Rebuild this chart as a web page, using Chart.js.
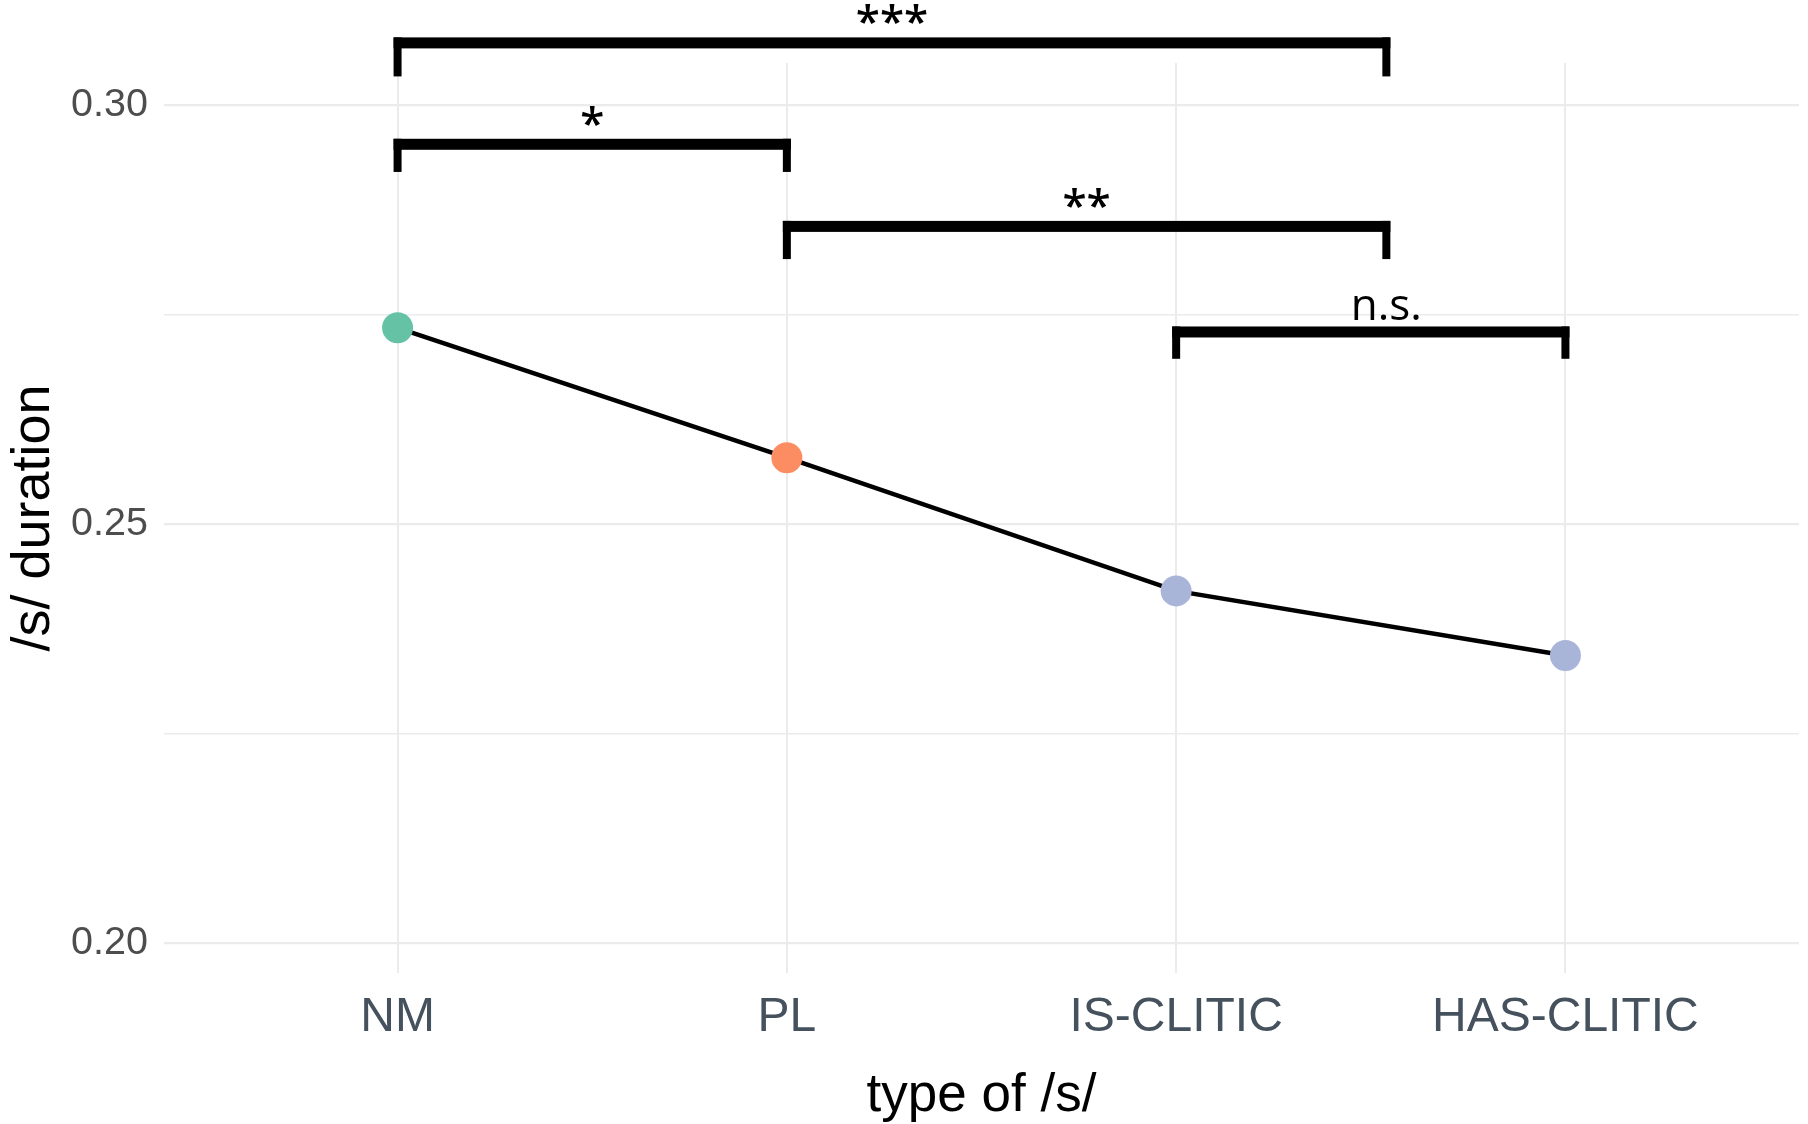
<!DOCTYPE html>
<html>
<head>
<meta charset="utf-8">
<script src="https://cdn.jsdelivr.net/npm/chart.js@4/dist/chart.umd.min.js"></script>
<style>
  html, body { margin: 0; padding: 0; background: #fff; overflow: hidden; }
  #wrap { width: 1808px; height: 1124px; position: relative; }
</style>
</head>
<body>
<div id="wrap"><canvas id="chart"></canvas></div>
<script>
// data
const categories = ['NM', 'PL', 'IS-CLITIC', 'HAS-CLITIC'];
const durations = [0.2734, 0.2579, 0.2420, 0.2343];
const yTicks = [0.20, 0.25, 0.30];

// significance brackets (x in category index, y in data units)
const bracketFrom = [0, 0, 1, 2];
const bracketTo = [2.54, 1, 2.54, 3];
const bracketY = [0.3074, 0.2953, 0.2855, 0.2729];
const bracketTipY = [0.3034, 0.2920, 0.2816, 0.2697];
const bracketLabels = ['***', '*', '**', 'n.s.'];
const bracketLabelX = [1.27, 0.5, 1.77, 2.54];

const pointColors = ['#66C2A5', '#FC8D62', '#A8B5D8', '#A8B5D8'];
const FONT = '"Liberation Sans", Arial, sans-serif';

const bracketPlugin = {
    id: 'brackets',
    afterDatasetsDraw(chart) {
        const { ctx, scales: { x, y } } = chart;
        const barH = 11, tickW = 8;
        ctx.save();
        ctx.fillStyle = '#000';
        ctx.textAlign = 'center';
        ctx.textBaseline = 'alphabetic';
        bracketFrom.forEach((from, i) => {
            const x1 = x.getPixelForValue(from);
            const x2 = x.getPixelForValue(bracketTo[i]);
            const yb = y.getPixelForValue(bracketY[i]);
            const yt = y.getPixelForValue(bracketTipY[i]);
            const top = yb - barH / 2;
            ctx.fillRect(x1 - tickW / 2, top, x2 - x1 + tickW, barH);
            ctx.fillRect(x1 - tickW / 2, top, tickW, yt - top);
            ctx.fillRect(x2 - tickW / 2, top, tickW, yt - top);

            const label = bracketLabels[i];
            const stars = label.startsWith('*');
            ctx.font = (stars ? '600 ' : '') + '44px "Open Sans"';
            const m = ctx.measureText(label);
            const cx = x.getPixelForValue(bracketLabelX[i]);
            const cy = yb - (stars ? 28.5 : 24);
            ctx.fillText(label, cx, cy + (m.actualBoundingBoxAscent - m.actualBoundingBoxDescent) / 2);
        });
        ctx.restore();
    }
};

const isMajor = v => yTicks.some(t => Math.abs(t - v) < 1e-6);

new Chart(document.getElementById('chart'), {
    type: 'line',
    data: {
        datasets: [{
            data: durations.map((v, i) => ({ x: i, y: v })),
            borderColor: '#000',
            borderWidth: 4.5,
            pointRadius: 15.5,
            pointHoverRadius: 15.5,
            pointBorderWidth: 0,
            pointBackgroundColor: pointColors,
            tension: 0
        }]
    },
    options: {
        responsive: true, maintainAspectRatio: false, animation: false,
        layout: { autoPadding: false, padding: { top: 63, right: 9, left: 0, bottom: 0 } },
        plugins: { legend: { display: false }, tooltip: { enabled: false } },
        scales: {
            x: {
                type: 'linear', min: -0.6, max: 3.6,
                afterFit: s => { s.height = 151; s.paddingLeft = 0; s.paddingRight = 0; },
                border: { display: false },
                grid: { color: '#EBEBEB', lineWidth: 2, drawTicks: false },
                ticks: {
                    stepSize: 1, includeBounds: false, padding: 16,
                    color: '#45525E', font: { family: FONT, size: 48 },
                    callback: v => categories[Math.round(v)] ?? ''
                },
                title: {
                    display: true, text: 'type of /s/', color: '#000',
                    font: { family: FONT, size: 53, lineHeight: 1 }, padding: { top: 0, bottom: 1 }
                }
            },
            y: {
                min: 0.1964, max: 0.3050,
                afterFit: s => { s.width = 164; s.paddingTop = 0; s.paddingBottom = 0; },
                border: { display: false },
                grid: {
                    color: '#EBEBEB', drawTicks: false,
                    lineWidth: c => (c.tick && isMajor(c.tick.value)) ? 2.2 : 1.6
                },
                ticks: {
                    stepSize: 0.025, includeBounds: false, padding: 16,
                    color: '#4D4D4D', font: { family: FONT, size: 39.5 },
                    callback: v => isMajor(v) ? v.toFixed(2) : ''
                },
                title: {
                    display: true, text: '/s/ duration', color: '#000',
                    font: { family: FONT, size: 54 }, padding: { top: 2, bottom: 0 }
                }
            }
        }
    },
    plugins: [bracketPlugin]
});
</script>
</body>
</html>
